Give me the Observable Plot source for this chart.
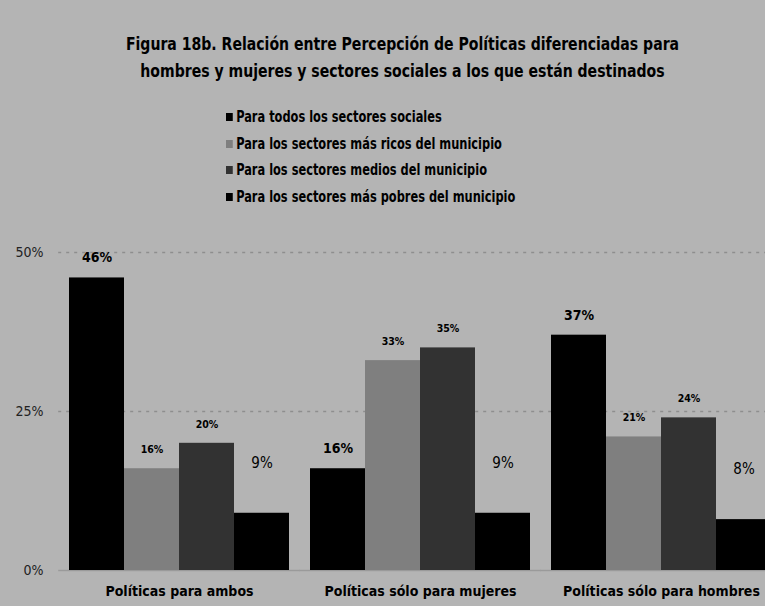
<!DOCTYPE html>
<html>
<head>
<meta charset="utf-8">
<script src="https://cdn.jsdelivr.net/npm/d3@7"></script>
<script src="https://cdn.jsdelivr.net/npm/@observablehq/plot@0.6"></script>
<style>
  html, body { margin: 0; padding: 0; }
  body { width: 765px; height: 606px; overflow: hidden; background: #b4b4b4; position: relative;
         font-family: "Liberation Sans Narrow", "DejaVu Sans Condensed", "Roboto Condensed", sans-serif; color: #000; }
  #title { position: absolute; left: 20px; top: 30px; width: 765px; text-align: center;
           font-weight: bold; font-size: 18px; line-height: 27px; white-space: nowrap;
           transform: scaleX(0.868); transform-origin: 382.5px 0; }
  #legend { position: absolute; left: 226px; top: 104px; font-weight: bold; font-size: 15px; line-height: 26.7px;
            transform: scaleX(0.845); transform-origin: 0 0; white-space: nowrap; }
  #legend .sw { display: inline-block; width: 8px; height: 8px; margin-right: 4px; vertical-align: 1px; }
  #chart { position: absolute; left: 0; top: 220px; }
</style>
</head>
<body>
<div id="title"></div>
<div id="legend"></div>
<div id="chart"></div>
<script>
const titleLines = [
  "Figura 18b. Relación entre Percepción de Políticas diferenciadas para",
  "hombres y mujeres y sectores sociales a los que están destinados"
];
const groups = ["Políticas para ambos", "Políticas sólo para mujeres", "Políticas sólo para hombres"];
const series = [
  "Para todos los sectores sociales",
  "Para los sectores más ricos del municipio",
  "Para los sectores medios del municipio",
  "Para los sectores más pobres del municipio"
];
const todos  = [46, 16, 37];
const ricos  = [16, 33, 21];
const medios = [20, 35, 24];
const pobres = [9, 9, 8];
const yTicks = [0, 25, 50];
const colors = ["#000000", "#7f7f7f", "#323232", "#000000"];

const seriesValues = [todos, ricos, medios, pobres];
const data = groups.flatMap((g, i) => series.map((s, k) => ({group: g, series: s, k, value: seriesValues[k][i]})));

document.getElementById("title").innerHTML = titleLines.join("<br>");
document.getElementById("legend").innerHTML = series.map((s, k) =>
  `<div><span class="sw" style="background:${colors[k]}"></span>${s}</div>`).join("");

const fmt = d => d.value + "%";
const font = '"Liberation Sans Narrow", "DejaVu Sans Condensed", sans-serif';

const chart = Plot.plot({
  width: 782,
  height: 386,
  marginLeft: 57,
  marginRight: 0,
  marginTop: 32,
  marginBottom: 36,
  style: {background: "transparent", fontFamily: font, overflow: "visible", maxWidth: "none", color: "#000"},
  fx: {domain: groups, paddingInner: 0.089, paddingOuter: 0.0445, label: null},
  x: {domain: series, padding: 0, axis: null},
  y: {domain: [0, 50], label: null},
  color: {domain: series, range: colors},
  marks: [
    Plot.ruleY([25, 50], {stroke: "#8e8e8e", strokeWidth: 1.5, strokeDasharray: "3,5", insetLeft: -10.8, insetRight: -10.8}),
    Plot.ruleY([0], {stroke: "#9a9a9a", strokeWidth: 1.5, insetLeft: -10.8, insetRight: -10.8}),
    Plot.barY(data, {fx: "group", x: "series", y: "value", fill: "series"}),
    Plot.text(data.filter(d => d.k === 0), {fx: "group", x: "series", y: "value", text: fmt, dy: -20, fontSize: 14, fontWeight: "bold", fill: "#000"}),
    Plot.text(data.filter(d => d.k === 1 || d.k === 2), {fx: "group", x: "series", y: "value", text: fmt, dy: -19, fontSize: 10.5, fontWeight: "bold", fill: "#000"}),
    Plot.text(data.filter(d => d.k === 3), {fx: "group", x: "series", y: "value", text: fmt, dy: -50, fontSize: 15, fill: "#000"}),
    Plot.axisY(yTicks, {tickSize: 0, tickPadding: 14, dx: -12, tickFormat: d => d + "%", fontSize: 14, label: null, fill: "#222"}),
    Plot.axisFx({anchor: "bottom", tickSize: 0, tickPadding: 16, fontSize: 14, fontWeight: "bold", label: null, fill: "#000"})
  ]
});
document.getElementById("chart").appendChild(chart);
</script>
</body>
</html>
